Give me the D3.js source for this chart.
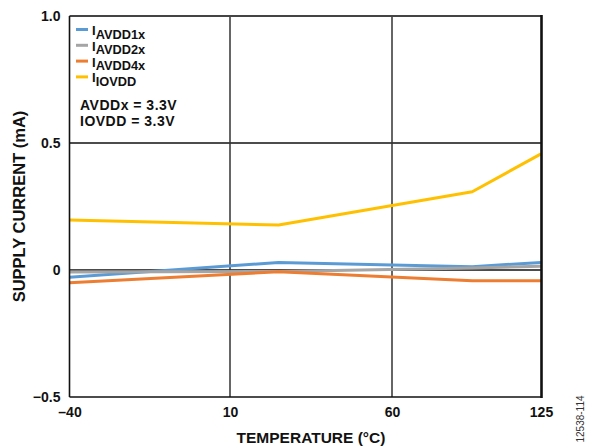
<!DOCTYPE html>
<html><head><meta charset="utf-8">
<script src="https://cdn.jsdelivr.net/npm/d3@7"></script>
<style>
html,body{margin:0;padding:0;background:#fff;}
svg{display:block;font-family:"Liberation Sans",Arial,sans-serif;}
</style></head>
<body><svg id="c" width="589" height="446"></svg>
<script>
// Data
const temps = [-40, 25, 95, 125];
const iAVDD1x = [-0.029, 0.030, 0.013, 0.030];
const iAVDD2x = [-0.008, -0.006, 0.008, 0.015];
const iAVDD4x = [-0.050, -0.007, -0.042, -0.042];
const iIOVDD = [0.197, 0.177, 0.308, 0.457];
const xTicks = [-40, 10, 60, 125];
const yTicks = [-0.5, 0, 0.5, 1.0];
const seriesNames = ["AVDD1x", "AVDD2x", "AVDD4x", "IOVDD"];
const seriesColors = ["#5b9bd5", "#a5a5a5", "#ed7d31", "#ffc000"];
const seriesValues = [iAVDD1x, iAVDD2x, iAVDD4x, iIOVDD];

const svg = d3.select("#c");
const L = 69.5, R = 541, T = 16, B = 397;
const x = d3.scaleLinear().domain(xTicks).range([L, 230, 392, R]);
const y = d3.scaleLinear().domain([-0.5, 1.0]).range([B, T]);
const fmtMinus = s => String(s).replace("-", "\u2013");

// gridlines
const g = svg.append("g");
g.selectAll("line.h").data([0, 0.5]).enter().append("line")
  .attr("x1", L).attr("x2", R).attr("y1", d => y(d)).attr("y2", d => y(d))
  .attr("stroke", "#111").attr("stroke-width", 1.4);
g.selectAll("line.v").data([10, 60]).enter().append("line")
  .attr("y1", T).attr("y2", B).attr("x1", d => x(d)).attr("x2", d => x(d))
  .attr("stroke", "#333").attr("stroke-width", 1.5);

// series
const line = d3.line().x((d, i) => x(temps[i])).y(d => y(d));
seriesValues.forEach((vals, k) => {
  svg.append("path").attr("d", line(vals)).attr("fill", "none")
    .attr("stroke", seriesColors[k]).attr("stroke-width", 3)
    .attr("stroke-linejoin", "round");
});

// frame
svg.append("line").attr("x1", L).attr("x2", R).attr("y1", T).attr("y2", T).attr("stroke", "#444").attr("stroke-width", 1.8);
svg.append("line").attr("x1", L).attr("x2", R).attr("y1", B).attr("y2", B).attr("stroke", "#111").attr("stroke-width", 1.6);
svg.append("line").attr("x1", L).attr("x2", L).attr("y1", T).attr("y2", B).attr("stroke", "#111").attr("stroke-width", 1.6);
svg.append("line").attr("x1", R + 0.5).attr("x2", R + 0.5).attr("y1", T - 1).attr("y2", B + 1).attr("stroke", "#111").attr("stroke-width", 2.6);

// axes
const yAxis = svg.append("g").attr("transform", `translate(${L},0)`)
  .call(d3.axisLeft(y).tickValues(yTicks).tickSize(0).tickPadding(9)
    .tickFormat(d => d === 0 ? "0" : fmtMinus(d3.format(".1f")(d))));
const xAxis = svg.append("g").attr("transform", `translate(0,${B})`)
  .call(d3.axisBottom(x).tickValues(xTicks).tickSize(0).tickPadding(10)
    .tickFormat(d => fmtMinus(d)));
[yAxis, xAxis].forEach(a => {
  a.select(".domain").remove();
  a.selectAll("text").attr("font-size", 14).attr("font-weight", "bold")
    .attr("fill", "#111").attr("font-family", "'Liberation Sans',Arial,sans-serif");
});

// axis titles
svg.append("text").attr("transform", `translate(25,${(T + B) / 2}) rotate(-90)`)
  .attr("text-anchor", "middle").attr("font-size", 16.5).attr("font-weight", "bold")
  .attr("fill", "#111").text("SUPPLY CURRENT (mA)");
svg.append("text").attr("x", 311).attr("y", 443).attr("text-anchor", "middle")
  .attr("font-size", 15.5).attr("font-weight", "bold").attr("fill", "#111")
  .text("TEMPERATURE (°C)");
svg.append("text").attr("transform", "translate(584,419) rotate(-90)")
  .attr("text-anchor", "middle").attr("font-size", 10).attr("fill", "#333")
  .text("12538-114");

// legend
const lg = svg.append("g");
seriesNames.forEach((n, i) => {
  const ly = 29.5 + i * 15.8;
  lg.append("line").attr("x1", 76).attr("x2", 88).attr("y1", ly).attr("y2", ly)
    .attr("stroke", seriesColors[i]).attr("stroke-width", 3);
  const t = lg.append("text").attr("x", 92).attr("y", ly + 5.5)
    .attr("font-weight", "bold").attr("fill", "#111").attr("font-size", 13);
  t.append("tspan").text("I");
  t.append("tspan").attr("dy", 3.6).attr("font-size", 12.8).text(n);
});
["AVDDx = 3.3V", "IOVDD = 3.3V"].forEach((s, i) => {
  svg.append("text").attr("x", 80).attr("y", 109.5 + i * 16.2).attr("font-size", 14)
    .attr("letter-spacing", 0.5).attr("font-weight", "bold").attr("fill", "#111").text(s);
});
</script></body></html>
